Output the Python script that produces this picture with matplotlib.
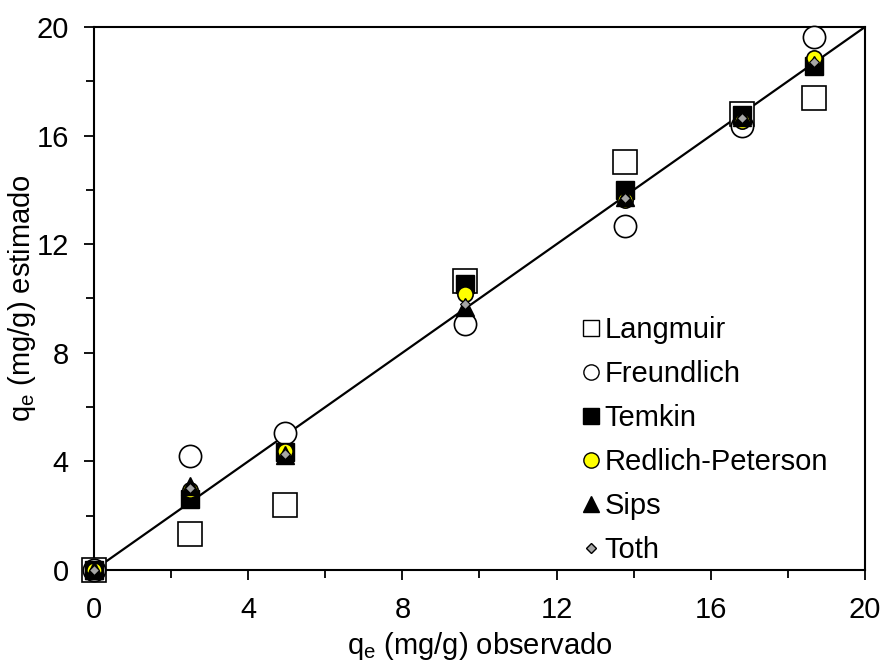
import matplotlib
matplotlib.use('Agg')
import matplotlib.pyplot as plt
from matplotlib.lines import Line2D

plt.rcParams['font.family'] = ['Liberation Sans', 'DejaVu Sans']
plt.rcParams['mathtext.fontset'] = 'custom'
plt.rcParams['mathtext.rm'] = 'Liberation Sans'

# observed q_e (mg/g)
q_obs = [0, 2.48, 4.95, 9.63, 13.77, 16.8, 18.68]

# estimated q_e per model
langmuir = [0, 1.33, 2.40, 10.66, 15.02, 16.78, 17.40]
freundlich = [0, 4.18, 5.04, 9.05, 12.68, 16.35, 19.62]
temkin = [0, 2.62, 4.34, 10.55, 13.98, 16.75, 18.55]
redlich_peterson = [0, 2.93, 4.40, 10.17, 13.63, 16.52, 18.85]
sips = [0, 3.10, 4.22, 9.68, 13.75, 16.68, 18.60]
toth = [0, 3.03, 4.26, 9.78, 13.70, 16.66, 18.70]

labels = ['Langmuir', 'Freundlich', 'Temkin', 'Redlich-Peterson', 'Sips', 'Toth']

fig = plt.figure(figsize=(8.85, 6.64), dpi=100)
ax = fig.add_axes([0.1062, 0.1416, 0.8712, 0.8178])

# 1:1 line
ax.plot([0, 20], [0, 20], color='black', lw=1.6, zorder=1)

# marker styles: (marker, size, facecolor, edge width)
styles = [
    ('s', 17, 'white', 1.2),
    ('o', 16, 'white', 1.2),
    ('s', 12.5, 'black', 1.0),
    ('o', 11, '#ffff00', 1.2),
    ('^', 13, 'black', 1.0),
    ('D', 4.6, '#a6a6a6', 0.8),
]
series = [langmuir, freundlich, temkin, redlich_peterson, sips, toth]

for i, (y, st) in enumerate(zip(series, styles)):
    m, ms, fc, mew = st
    ax.plot(q_obs, y, ls='none', marker=m, ms=ms, mfc=fc, mec='black', mew=mew,
            zorder=2 + i, clip_on=False)

ax.set_xlim(0, 20)
ax.set_ylim(0, 20)
ax.set_xticks([0, 4, 8, 12, 16, 20])
ax.set_yticks([0, 4, 8, 12, 16, 20])
ax.set_xticks([2, 6, 10, 14, 18], minor=True)
ax.set_yticks([2, 6, 10, 14, 18], minor=True)
ax.tick_params(which='major', direction='out', length=7, width=1.3, labelsize=21, top=False, right=False)
ax.tick_params(which='minor', direction='out', length=5.5, width=1.3, top=False, right=False)
ax.tick_params(axis='x', pad=12)
ax.tick_params(axis='y', pad=11)
for s in ax.spines.values():
    s.set_linewidth(1.5)
    s.set_zorder(0.5)

ax.set_xlabel(r'$\mathregular{q_e}$ (mg/g) observado', fontsize=21, labelpad=4)
ax.set_ylabel(r'$\mathregular{q_e}$ (mg/g) estimado', fontsize=21, labelpad=-1)

# legend handles with smaller markers
leg_sizes = [11, 11, 11, 11, 11, 5.5]
handles = []
for st, ls_ in zip(styles, leg_sizes):
    m, ms, fc, mew = st
    handles.append(Line2D([], [], ls='none', marker=m, ms=ls_, mfc=fc, mec='black', mew=1.0))

ax.legend(handles, labels, loc='upper left', bbox_to_anchor=(0.615, 0.495), frameon=False,
          fontsize=21, handlelength=0.6, handletextpad=0.15, labelspacing=0.55, borderpad=0)

fig.savefig('out.png', dpi=100)
